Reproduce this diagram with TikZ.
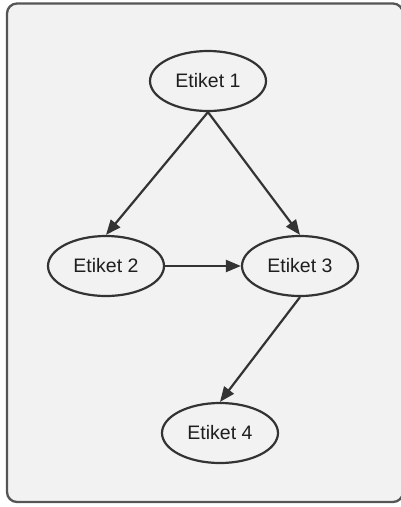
\documentclass[tikz,border=0pt]{standalone}
\usepackage{fontspec}
\setmainfont{Liberation Sans}
\usetikzlibrary{shapes.geometric,arrows.meta}
\definecolor{panelfill}{HTML}{F2F2F2}
\definecolor{panelline}{HTML}{555555}
\definecolor{inkline}{HTML}{333333}
\definecolor{inktext}{HTML}{1E1E1E}
\begin{document}
\begin{tikzpicture}[x=1pt,y=-1pt,
  label node/.style={ellipse,draw=inkline,line width=2.2pt,fill=panelfill,
    minimum width=116pt,minimum height=60pt,inner sep=0pt,
    text=inktext,font=\fontsize{19.5}{21}\selectfont},
  link/.style={draw=inkline,line width=2.2pt,
    -{Triangle[length=15pt,width=12pt]}}]
  \useasboundingbox (0,0) rectangle (401,507);
  % surrounding panel
  \draw[panelline,line width=2.3pt,fill=panelfill,rounded corners=10pt]
    (7,3.5) rectangle (403,502);
  % nodes
  \node[label node] (e1) at (208,81) {Etiket 1};
  \node[label node] (e2) at (106,266) {Etiket 2};
  \node[label node] (e3) at (300,266) {Etiket 3};
  \node[label node] (e4) at (220,433) {Etiket 4};
  % connectors
  \draw[link] (e1.south) -- (e2.north);
  \draw[link] (e1.south) -- (e3.north);
  \draw[link] (e2.east) -- (e3.west);
  \draw[link] (e3.south) -- (e4.north);
\end{tikzpicture}
\end{document}
